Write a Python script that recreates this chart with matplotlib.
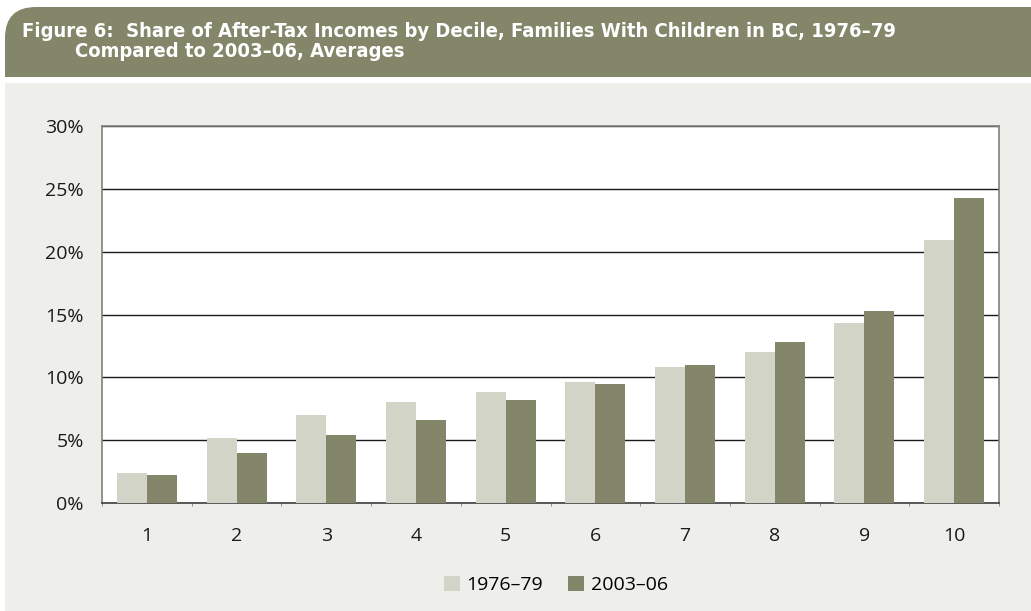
import matplotlib
matplotlib.use('Agg')
import matplotlib.pyplot as plt
from matplotlib.patches import FancyBboxPatch, Rectangle
import numpy as np

deciles = ['1', '2', '3', '4', '5', '6', '7', '8', '9', '10']
share_1976 = [2.4, 5.2, 7.0, 8.0, 8.8, 9.6, 10.8, 12.0, 14.3, 20.9]
share_2003 = [2.2, 4.0, 5.4, 6.6, 8.2, 9.5, 11.0, 12.8, 15.3, 24.3]
series_names = ['1976\u201379', '2003\u201306']
yticks = [0, 5, 10, 15, 20, 25, 30]

title_1 = 'Figure 6:  Share of After-Tax Incomes by Decile, Families With Children in BC, 1976\u201379'
title_2 = 'Compared to 2003\u201306, Averages'

light = '#D3D4C8'
dark = '#838669'
panel = '#EEEEEA'

W, H = 1031, 611
fig = plt.figure(figsize=(W / 100, H / 100), dpi=100)
fig.patch.set_facecolor('white')

def fx(px):
    return px / W

def fy(py):
    return 1 - py / H

# header band with rounded top-left corner, lower part hidden under the panel
hdr = FancyBboxPatch((fx(5), fy(120)), fx(1100), fy(7) - fy(120),
                     boxstyle='round,pad=0,rounding_size=0.03',
                     transform=fig.transFigure, facecolor=dark, edgecolor='none',
                     mutation_aspect=W / H, zorder=-10)
fig.patches.append(hdr)
fig.patches.append(Rectangle((0, fy(83)), 1, fy(77) - fy(83), transform=fig.transFigure,
                             facecolor='white', edgecolor='none', zorder=-9))
fig.patches.append(Rectangle((fx(5), 0), 1, fy(83), transform=fig.transFigure,
                             facecolor=panel, edgecolor='none', zorder=-9))

tkw = dict(color='white', fontsize=14.5, fontweight='bold', family='DejaVu Sans',
           fontstretch='condensed', va='baseline', ha='left')
fig.text(fx(22), fy(37), title_1, **tkw)
fig.text(fx(75), fy(57), title_2, **tkw)

ax = fig.add_axes([fx(102), fy(503), fx(999) - fx(102), fy(126) - fy(503)])
ax.set_facecolor('white')

x = np.arange(len(deciles))
bw = 0.335
ax.bar(x - bw / 2, share_1976, bw, color=light, label=series_names[0], zorder=3)
ax.bar(x + bw / 2, share_2003, bw, color=dark, label=series_names[1], zorder=3)

ax.set_xlim(-0.5, len(deciles) - 0.5)
ax.set_ylim(0, 30)
ax.set_yticks(yticks)
ax.set_yticklabels([f'{v}%' for v in yticks])
ax.set_xticks(x)
ax.set_xticklabels(deciles)
ax.set_xticks(np.arange(len(deciles) + 1) - 0.5, minor=True)
ax.tick_params(axis='x', which='major', length=0, pad=17)
ax.tick_params(axis='x', which='minor', length=2.5, color='#808080', direction='out')
ax.tick_params(axis='y', length=0, pad=13)
ax.tick_params(labelsize=14, labelcolor='#1a1a1a')
for lab in ax.get_xticklabels() + ax.get_yticklabels():
    lab.set_family(['Open Sans', 'DejaVu Sans'])

ax.yaxis.grid(True, color='#1a1a1a', linewidth=1.0, zorder=1)
ax.set_axisbelow(True)
for s in ax.spines.values():
    s.set_color('#808080')
    s.set_linewidth(1.2)
ax.spines['bottom'].set_color('#404040')

leg = fig.legend(loc='center', bbox_to_anchor=(fx(556), fy(585)), ncol=2, frameon=False,
                 handlelength=0.8, handleheight=0.8, handletextpad=0.35, columnspacing=1.3,
                 prop={'family': ['Open Sans', 'DejaVu Sans'], 'size': 14})

fig.savefig('out.png', dpi=100, facecolor=fig.get_facecolor())
